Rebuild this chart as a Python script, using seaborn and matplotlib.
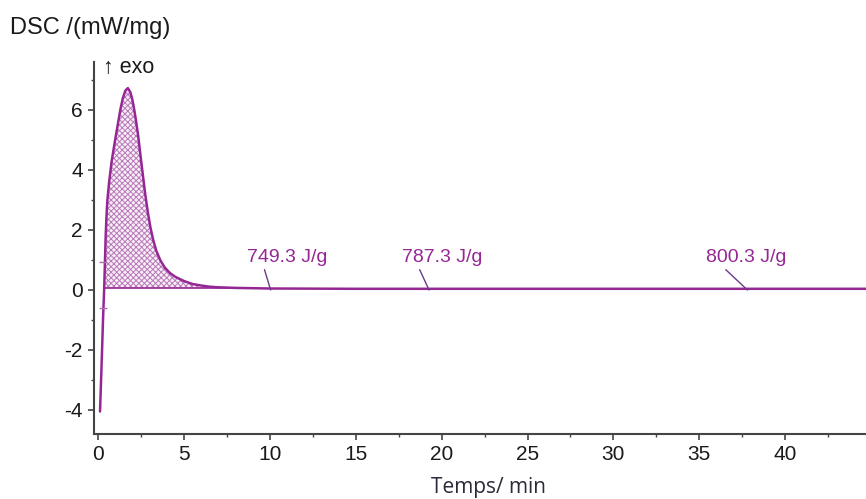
import numpy as np
import pandas as pd
import matplotlib
matplotlib.use("Agg")
from matplotlib import pyplot as plt
import seaborn as sns

# DSC curve (time in min, signal in mW/mg)
time_min = [0.12, 0.2, 0.3, 0.36, 0.4, 0.45, 0.5, 0.55, 0.65, 0.8, 1.0, 1.15, 1.3, 1.45,
            1.6, 1.74, 1.88, 2.0, 2.1, 2.2, 2.35, 2.45, 2.6, 2.75, 2.9, 3.05, 3.2, 3.4,
            3.64, 3.9, 4.2, 4.5, 5.0, 5.5, 6.0, 6.5, 7.0, 8.0, 9.0, 10.0, 15.0, 20.0,
            30.0, 40.0, 44.7]
dsc = [-4.05, -2.7, -0.9, 0.0, 0.8, 1.8, 2.5, 3.0, 3.6, 4.3, 5.0, 5.5, 6.0, 6.4,
       6.65, 6.73, 6.6, 6.35, 6.05, 5.7, 5.1, 4.6, 3.9, 3.2, 2.6, 2.1, 1.7, 1.3,
       0.98, 0.74, 0.56, 0.44, 0.3, 0.2, 0.15, 0.11, 0.09, 0.07, 0.06, 0.05, 0.04, 0.04,
       0.04, 0.04, 0.04]

# integration results
ann_labels = ["749.3 J/g", "787.3 J/g", "800.3 J/g"]
ann_x = [10.05, 19.27, 37.8]
ann_text_x = [8.7, 17.7, 35.4]

peak_start, peak_end, baseline_y = 0.4, 8.0, 0.07

df = pd.DataFrame({"Temps": time_min, "DSC": dsc})

sns.set_theme(style="ticks")
plt.rcParams["font.family"] = ["Liberation Sans", "DejaVu Sans"]
plt.rcParams["hatch.linewidth"] = 0.7
plt.rcParams["axes.unicode_minus"] = False

purple = "#952795"
fig = plt.figure(figsize=(8.66, 4.99), dpi=100)
ax = fig.add_axes([94 / 866, 1 - 434 / 499, 1 - 94 / 866, (434 - 62) / 499])

# hatched peak area between curve and baseline
mask = (df["Temps"] >= peak_start) & (df["Temps"] <= peak_end)
ax.fill_between(df["Temps"][mask], baseline_y, df["DSC"][mask], facecolor="#f7eef7",
                edgecolor="#b979b9", hatch="xxxxxx", linewidth=0)
ax.plot([peak_start, peak_end], [baseline_y, baseline_y], color=purple, lw=1.2)

sns.lineplot(x="Temps", y="DSC", data=df, color=purple, linewidth=1.8, ax=ax, sort=False)

# small integration limit marks
ax.plot([0.3, 0.3], [-0.6, 0.94], ls="none", marker="_", ms=6, color="#b070b0", mew=1)

for lab, x, tx in zip(ann_labels, ann_x, ann_text_x):
    ax.annotate(lab, xy=(x, 0.0), xytext=(tx, 1.07), color=purple, fontsize=14,
                va="center", ha="left",
                arrowprops=dict(arrowstyle="-", color="#6a3a8a", lw=1.0,
                                shrinkA=0, shrinkB=0,
                                relpos=(0.2, 0.0)))

ax.set_xlim(-0.23, 44.7)
ax.set_ylim(-4.8, 7.6)
ax.set_xticks([0, 5, 10, 15, 20, 25, 30, 35, 40])
ax.set_yticks([-4, -2, 0, 2, 4, 6])
ax.set_xticks(np.arange(2.5, 45, 5), minor=True)
ax.set_yticks(np.arange(-3, 8, 2), minor=True)
ax.tick_params(axis="both", which="major", labelsize=15, length=4, width=1.2,
               color="#444444", labelcolor="#1a1a1a", pad=4)
ax.tick_params(axis="both", which="minor", length=2.5, width=1.0, color="#444444")
ax.set_xlabel("")
ax.set_ylabel("")
for side in ["top", "right"]:
    ax.spines[side].set_visible(False)
for side in ["left", "bottom"]:
    ax.spines[side].set_color("#444444")
    ax.spines[side].set_linewidth(1.5)

fig.text(10 / 866, 1 - 28 / 499, "DSC /(mW/mg)", fontsize=17, va="center", ha="left",
         color="#1a1a1a")
fig.text(103 / 866, 1 - 68 / 499, "↑ exo", fontsize=15.5, va="center", ha="left",
         color="#1a1a1a")
fig.text(488 / 866, 1 - 488 / 499, "Temps/ min", fontsize=15, va="center", ha="center",
         color="#2a2a3a", family=["Open Sans", "DejaVu Sans"])

fig.savefig("out.png", dpi=100)
